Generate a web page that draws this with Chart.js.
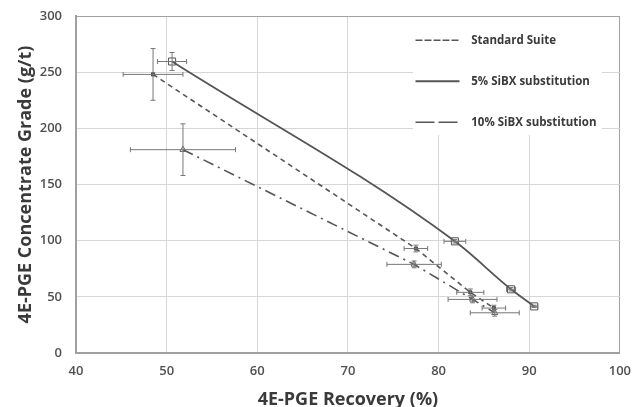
<!DOCTYPE html>
<html>
<head>
<meta charset="utf-8">
<script src="https://cdn.jsdelivr.net/npm/chart.js@4.4.1/dist/chart.umd.min.js"></script>
<style>
  html, body { margin: 0; padding: 0; background: #fff; }
  #wrap { width: 641px; height: 407px; }
</style>
</head>
<body>
<div id="wrap"><canvas id="c" width="641" height="407"></canvas></div>
<script>
// --- data ---
const seriesNames = ['Standard Suite', '5% SiBX substitution', '10% SiBX substitution'];

const recStd = [48.5, 77.5, 83.5, 86.1];
const gradeStd = [248, 93, 54, 40];
const recErrStd = [3.3, 1.3, 1.5, 1.3];
const gradeErrStd = [23, 3, 3, 2.5];

const rec5 = [50.6, 81.8, 88.0, 90.55];
const grade5 = [259.5, 99.4, 56.7, 41.5];
const recErr5 = [1.6, 1.2, 0.5, 0.4];
const gradeErr5 = [8, 1.5, 1.5, 1];

const rec10 = [51.8, 77.3, 83.75, 86.2];
const grade10 = [181, 78.9, 47.7, 35.8];
const recErr10 = [5.8, 3.0, 2.7, 2.7];
const gradeErr10 = [23, 3, 3, 3];

const xTicks = [40, 50, 60, 70, 80, 90, 100];
const yTicks = [0, 50, 100, 150, 200, 250, 300];

const pts = (xs, ys) => xs.map((x, i) => ({ x: x, y: ys[i] }));
const FONT = '"Open Sans", "DejaVu Sans", sans-serif';

// error bars drawn through the chart scales
const errorBars = {
  id: 'errorBars',
  afterDatasetsDraw(chart) {
    const { ctx, scales: { x, y } } = chart;
    ctx.save();
    ctx.strokeStyle = '#777';
    ctx.lineWidth = 1;
    chart.data.datasets.forEach(ds => {
      ds.data.forEach((p, i) => {
        const px = x.getPixelForValue(p.x), py = y.getPixelForValue(p.y);
        const xl = x.getPixelForValue(p.x - ds.xErr[i]), xr = x.getPixelForValue(p.x + ds.xErr[i]);
        const yt = y.getPixelForValue(p.y + ds.yErr[i]), yb = y.getPixelForValue(p.y - ds.yErr[i]);
        const cap = 2.5;
        ctx.beginPath();
        ctx.moveTo(xl, py); ctx.lineTo(xr, py);
        ctx.moveTo(xl, py - cap); ctx.lineTo(xl, py + cap);
        ctx.moveTo(xr, py - cap); ctx.lineTo(xr, py + cap);
        ctx.moveTo(px, yt); ctx.lineTo(px, yb);
        ctx.moveTo(px - cap, yt); ctx.lineTo(px + cap, yt);
        ctx.moveTo(px - cap, yb); ctx.lineTo(px + cap, yb);
        ctx.stroke();
      });
    });
    ctx.restore();
  }
};

// legend sits inside the plot, top right, on a white patch
const legendBox = {
  id: 'legendBox',
  afterLayout(chart) {
    const lg = chart.legend, a = chart.chartArea;
    lg.left = a.left + 310;
    lg.top = a.top - 11;
  },
  beforeDatasetsDraw(chart) {
    const { ctx, chartArea: a } = chart;
    ctx.save();
    ctx.fillStyle = '#fff';
    ctx.fillRect(a.left + 337, a.top + 1, 189, 118);
    ctx.restore();
    chart.legend.draw();
  }
};

const defaultLabels = Chart.defaults.plugins.legend.labels.generateLabels;

new Chart(document.getElementById('c'), {
  type: 'scatter',
  data: {
    datasets: [
      {
        label: seriesNames[0], data: pts(recStd, gradeStd), xErr: recErrStd, yErr: gradeErrStd,
        showLine: true, borderColor: '#555', borderWidth: 1.6, borderDash: [5, 4],
        pointStyle: 'rect', pointRadius: 2.2, pointBackgroundColor: '#444', pointBorderColor: '#444', pointBorderWidth: 1
      },
      {
        label: seriesNames[1], data: pts(rec5, grade5), xErr: recErr5, yErr: gradeErr5,
        showLine: true, borderColor: '#555', borderWidth: 1.8, cubicInterpolationMode: 'monotone',
        pointStyle: 'rect', pointRadius: 5, pointBackgroundColor: 'rgba(0,0,0,0)', pointBorderColor: '#555', pointBorderWidth: 1
      },
      {
        label: seriesNames[2], data: pts(rec10, grade10), xErr: recErr10, yErr: gradeErr10,
        showLine: true, borderColor: '#555', borderWidth: 1.6, borderDash: [11, 5, 2, 5],
        pointStyle: 'triangle', pointRadius: 3.5, pointBackgroundColor: 'rgba(0,0,0,0)', pointBorderColor: '#666', pointBorderWidth: 1
      }
    ]
  },
  options: {
    responsive: false,
    animation: false,
    layout: { padding: { top: 16, right: 16, left: 15, bottom: 0 } },
    plugins: {
      tooltip: { enabled: false },
      legend: {
        position: 'chartArea',
        fullSize: false,
        align: 'start',
        labels: {
          boxWidth: 44, boxHeight: 0, padding: 29.5, color: '#3a3a3a',
          font: { family: FONT, size: 11.5, weight: 'bold' },
          generateLabels: chart => defaultLabels(chart).map(l => Object.assign(l, { text: '  ' + l.text, fillStyle: 'rgba(0,0,0,0)' }))
        }
      }
    },
    scales: {
      x: {
        type: 'linear', min: 40, max: 100,
        afterBuildTicks: s => { s.ticks = xTicks.map(v => ({ value: v })); },
        afterFit: s => { s.height = 54; },
        grid: { color: c => c.tick.value === 100 ? '#a0a0a0' : '#d6d6d6', lineWidth: 1, drawTicks: false },
        border: { color: '#a0a0a0', width: 2 },
        ticks: { color: '#505050', font: { family: FONT, size: 13, weight: '600' }, padding: 10 },
        title: { display: true, text: '4E-PGE Recovery (%)', color: '#3a3a3a', font: { family: FONT, size: 18, weight: 'bold' }, padding: { top: 4, bottom: -4 } }
      },
      y: {
        type: 'linear', min: 0, max: 300,
        afterBuildTicks: s => { s.ticks = yTicks.map(v => ({ value: v })); },
        afterFit: s => { s.width = 61; s.paddingTop = 8; },
        grid: { color: c => c.tick.value === 300 ? '#a0a0a0' : '#d6d6d6', lineWidth: 1, drawTicks: false },
        border: { color: '#a0a0a0', width: 2 },
        ticks: { color: '#505050', font: { family: FONT, size: 13, weight: '600' }, padding: 14 },
        title: { display: true, text: '4E-PGE Concentrate Grade (g/t)', color: '#3a3a3a', font: { family: FONT, size: 18, weight: 'bold' }, padding: { top: 0, bottom: 2 } }
      }
    }
  },
  plugins: [errorBars, legendBox]
});
</script>
</body>
</html>
